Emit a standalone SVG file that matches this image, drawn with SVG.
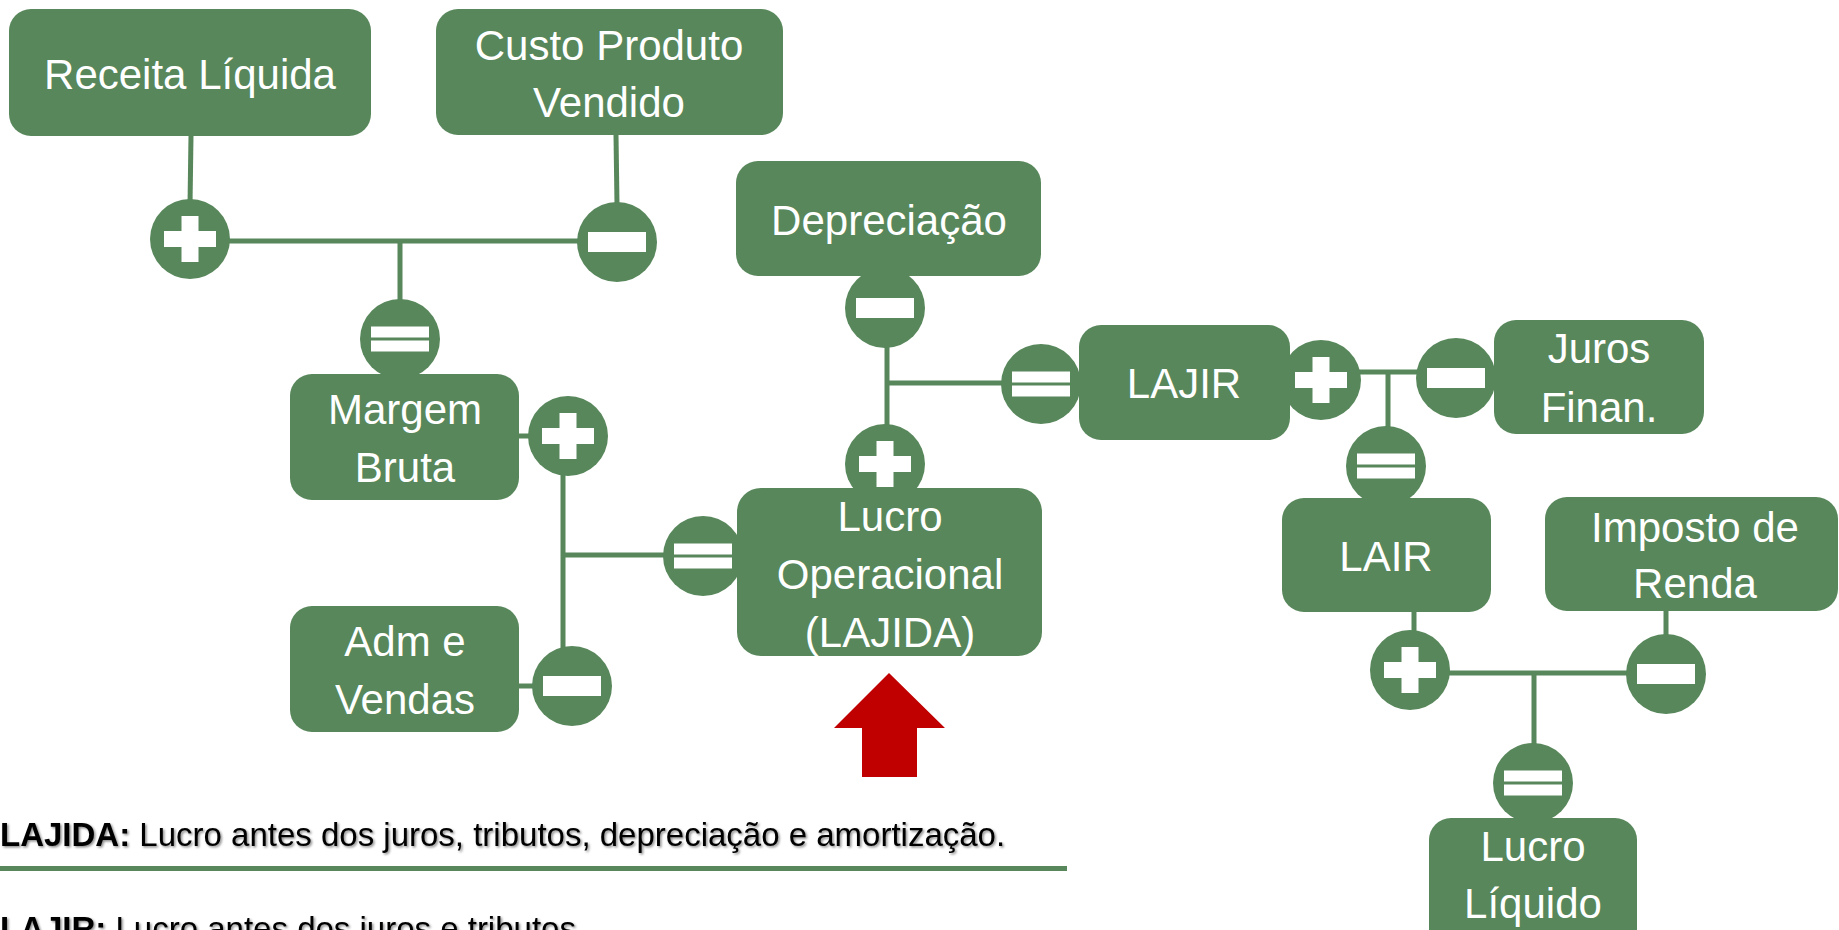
<svg xmlns="http://www.w3.org/2000/svg" xmlns:xlink="http://www.w3.org/1999/xlink" width="1839" height="930" viewBox="0 0 1839 930">
<defs>
<style>
.box{fill:#57875A;}
.lbl{font-family:"Liberation Sans",Arial,sans-serif;font-size:42px;fill:#fff;text-anchor:middle;}
.con{stroke:#57875A;stroke-width:5;fill:none;}
.note{font-family:"Liberation Sans",Arial,sans-serif;font-size:33px;fill:#000;}
</style>
<filter id="sh" x="-5%" y="-30%" width="110%" height="160%">
<feDropShadow dx="1.5" dy="1.5" stdDeviation="1" flood-color="#000" flood-opacity="0.45"/>
</filter>
<g id="plus"><circle r="40" fill="#57875A"/><rect x="-26" y="-8" width="52" height="16" fill="#fff"/><rect x="-8.5" y="-23" width="17" height="46" fill="#fff"/></g>
<g id="minus"><circle r="40" fill="#57875A"/><rect x="-29" y="-10" width="58" height="20" fill="#fff"/></g>
<g id="equals"><circle r="40" fill="#57875A"/><rect x="-29" y="-12.5" width="58" height="11" fill="#fff"/><rect x="-29" y="1.5" width="58" height="11" fill="#fff"/></g>
</defs>
<rect width="1839" height="930" fill="#fff"/>

<g id="connectors">
<line class="con" x1="191" y1="136" x2="190" y2="205"/>
<line class="con" x1="616" y1="135" x2="617" y2="205"/>
<line class="con" x1="190" y1="241" x2="617" y2="241"/>
<line class="con" x1="400" y1="241" x2="400" y2="305"/>
<line class="con" x1="519" y1="436" x2="535" y2="436"/>
<line class="con" x1="563" y1="470" x2="563" y2="652"/>
<line class="con" x1="563" y1="555" x2="670" y2="555"/>
<line class="con" x1="519" y1="686" x2="538" y2="686"/>
<line class="con" x1="887" y1="340" x2="887" y2="432"/>
<line class="con" x1="887" y1="383" x2="1010" y2="383"/>
<line class="con" x1="1352" y1="372" x2="1425" y2="372"/>
<line class="con" x1="1388" y1="372" x2="1388" y2="432"/>
<line class="con" x1="1414" y1="612" x2="1414" y2="636"/>
<line class="con" x1="1666" y1="611" x2="1666" y2="640"/>
<line class="con" x1="1445" y1="673" x2="1630" y2="673"/>
<line class="con" x1="1534" y1="673" x2="1534" y2="750"/>
</g>

<g id="op-plus-1"><use xlink:href="#plus" x="190" y="239"/></g>
<g id="op-minus-1"><use xlink:href="#minus" x="617" y="242"/></g>
<g id="op-equals-1"><use xlink:href="#equals" x="400" y="339"/></g>
<g id="op-plus-2"><use xlink:href="#plus" x="568" y="436"/></g>
<g id="op-minus-2"><use xlink:href="#minus" x="572" y="686"/></g>
<g id="op-equals-2"><use xlink:href="#equals" x="703" y="556"/></g>
<g id="op-minus-3"><use xlink:href="#minus" x="885" y="308"/></g>
<g id="op-plus-3"><use xlink:href="#plus" x="885" y="464"/></g>
<g id="op-equals-3"><use xlink:href="#equals" x="1041" y="384"/></g>
<g id="op-plus-4"><use xlink:href="#plus" x="1321" y="380"/></g>
<g id="op-minus-4"><use xlink:href="#minus" x="1456" y="378"/></g>
<g id="op-equals-4"><use xlink:href="#equals" x="1386" y="466"/></g>
<g id="op-plus-5"><use xlink:href="#plus" x="1410" y="670"/></g>
<g id="op-minus-5"><use xlink:href="#minus" x="1666" y="674"/></g>
<g id="op-equals-5"><use xlink:href="#equals" x="1533" y="783"/></g>

<g id="receita-liquida"><rect class="box" x="9" y="9" width="362" height="127" rx="22"/><text class="lbl" x="190" y="89">Receita Líquida</text></g>
<g id="custo-produto-vendido"><rect class="box" x="436" y="9" width="347" height="126" rx="22"/><text class="lbl" x="609" y="60">Custo Produto</text><text class="lbl" x="609" y="117">Vendido</text></g>
<g id="depreciacao"><rect class="box" x="736" y="161" width="305" height="115" rx="22"/><text class="lbl" x="889" y="235">Depreciação</text></g>
<g id="lajir"><rect class="box" x="1079" y="325" width="211" height="115" rx="22"/><text class="lbl" x="1184" y="398">LAJIR</text></g>
<g id="juros-finan"><rect class="box" x="1494" y="320" width="210" height="114" rx="22"/><text class="lbl" x="1599" y="363">Juros</text><text class="lbl" x="1599" y="422">Finan.</text></g>
<g id="margem-bruta"><rect class="box" x="290" y="374" width="229" height="126" rx="22"/><text class="lbl" x="405" y="424">Margem</text><text class="lbl" x="405" y="482">Bruta</text></g>
<g id="lucro-operacional"><rect class="box" x="737" y="488" width="305" height="168" rx="24"/><text class="lbl" x="890" y="531">Lucro</text><text class="lbl" x="890" y="589">Operacional</text><text class="lbl" x="890" y="647">(LAJIDA)</text></g>
<g id="adm-vendas"><rect class="box" x="290" y="606" width="229" height="126" rx="22"/><text class="lbl" x="405" y="656">Adm e</text><text class="lbl" x="405" y="714">Vendas</text></g>
<g id="lair"><rect class="box" x="1282" y="498" width="209" height="114" rx="22"/><text class="lbl" x="1386" y="571">LAIR</text></g>
<g id="imposto-renda"><rect class="box" x="1545" y="497" width="293" height="114" rx="22"/><text class="lbl" x="1695" y="542">Imposto de</text><text class="lbl" x="1695" y="598">Renda</text></g>
<g id="lucro-liquido"><rect class="box" x="1429" y="818" width="208" height="140" rx="22"/><text class="lbl" x="1533" y="861">Lucro</text><text class="lbl" x="1533" y="918">Líquido</text></g>

<g id="red-arrow"><polygon points="889,673 945,728 917,728 917,777 862,777 862,728 834,728" fill="#C00000"/></g>

<g id="notes">
<text class="note" x="0" y="846" filter="url(#sh)"><tspan font-weight="bold">LAJIDA:</tspan> Lucro antes dos juros, tributos, depreciação e amortização.</text>
<line x1="0" y1="868.5" x2="1067" y2="868.5" stroke="#57875A" stroke-width="5"/>
<text class="note" x="0" y="940" filter="url(#sh)"><tspan font-weight="bold">LAJIR:</tspan> Lucro antes dos juros e tributos</text>
</g>
</svg>
